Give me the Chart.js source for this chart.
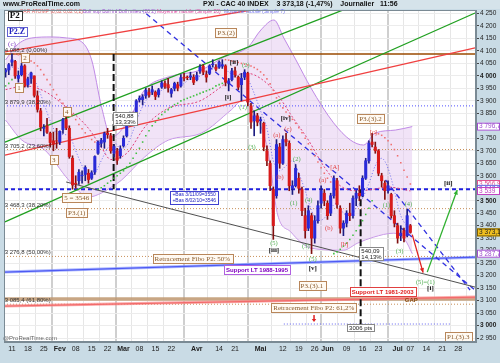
<!DOCTYPE html>
<html><head><meta charset="utf-8">
<script src="https://cdn.jsdelivr.net/npm/chart.js@4.4.1/dist/chart.umd.min.js"></script>
<style>html,body{margin:0;padding:0;background:#c9dbe5;}#wrap{width:500px;height:363px;position:relative}</style>
</head><body><div id="wrap"><canvas id="c" width="500" height="363"></canvas></div>
<script>
// ---------- DATA ----------
const tickPos = [0,5,10,15,20,25,30,35,40,45,50,58,65,70,78,85,90,95,99,105,110,115,121,125,130,135,140];
const tickLabels = ['11','18','25','Fev','08','15','22','Mar','08','15','22','Avr','14','21','Mai','12','19','26','Jun','09','16','23','Jul','07','14','21','28'];
const monthLabels = ['Fev','Mar','Avr','Mai','Jun','Jul'];
const firstDay = -2;
const opens  = [4016,4024,4055,4058,3990,4005,4040,3965,3990,4000,3920,3860,3790,3800,3770,3740,3740,3735,3785,3825,3790,3670,3570,3580,3600,3605,3610,3590,3615,3690,3730,3735,3770,3760,3690,3700,3680,3720,3760,3810,3845,3840,3905,3905,3920,3935,3935,3935,3925,3955,3970,3965,3930,3950,3965,3960,3995,3995,3995,3995,3985,4020,4040,4005,4010,4045,4035,4035,4040,4040,3970,3985,4020,3995,3965,3995,4010,3880,3820,3840,3820,3810,3700,3650,3545,3520,3715,3650,3745,3730,3550,3560,3590,3545,3440,3390,3440,3350,3420,3490,3530,3490,3450,3520,3580,3470,3390,3410,3450,3440,3510,3530,3520,3590,3660,3735,3715,3700,3600,3570,3540,3525,3440,3400,3360,3380,3360,3400];
const highs  = [4030,4050,4088,4062,4020,4050,4045,3995,4015,4000,3940,3870,3805,3830,3775,3775,3790,3780,3830,3840,3800,3680,3600,3625,3620,3640,3625,3620,3680,3740,3750,3775,3790,3770,3725,3710,3720,3760,3815,3855,3855,3905,3920,3925,3950,3950,3960,3940,3950,3980,3980,3990,3950,3975,3975,4005,4010,4000,4015,4005,4015,4045,4045,4020,4045,4065,4045,4060,4065,4045,3990,4030,4035,4000,4010,4025,4015,3890,3860,3850,3835,3815,3720,3660,3555,3745,3730,3760,3770,3740,3580,3645,3610,3555,3470,3480,3450,3440,3500,3560,3545,3500,3530,3600,3590,3480,3420,3460,3490,3520,3540,3560,3600,3670,3740,3770,3735,3705,3610,3580,3580,3530,3460,3410,3400,3390,3465,3405];
const lows   = [3995,4005,4040,3990,3975,4000,3955,3955,3970,3915,3855,3780,3760,3770,3715,3700,3710,3725,3770,3785,3670,3546,3550,3565,3570,3580,3570,3585,3605,3685,3715,3710,3750,3690,3675,3645,3670,3715,3755,3800,3815,3835,3895,3885,3910,3915,3925,3905,3915,3950,3950,3935,3915,3940,3940,3955,3980,3985,3985,3965,3980,4010,4005,3975,4005,4035,4020,4030,4030,3960,3940,3980,3995,3945,3900,3985,3880,3790,3760,3800,3770,3700,3640,3540,3345,3510,3630,3645,3720,3540,3525,3555,3530,3440,3350,3380,3288,3330,3410,3470,3480,3425,3440,3510,3470,3370,3360,3395,3420,3430,3480,3500,3515,3585,3650,3715,3690,3600,3555,3505,3530,3430,3395,3330,3340,3335,3355,3370];
const closes = [4024,4045,4064,4000,4002,4040,3960,3988,4012,3922,3866,3795,3794,3774,3733,3727,3739,3778,3825,3792,3677,3563,3567,3614,3602,3633,3585,3612,3677,3735,3742,3769,3765,3700,3717,3662,3708,3750,3808,3850,3830,3900,3911,3916,3942,3925,3945,3918,3944,3972,3958,3952,3945,3970,3951,3993,3991,3993,4000,3974,4002,4035,4015,3995,4040,4047,4027,4055,4045,3975,3980,4020,4005,3955,3990,4015,3895,3815,3840,3815,3825,3715,3660,3560,3400,3725,3650,3745,3735,3560,3560,3630,3550,3460,3380,3460,3350,3420,3480,3540,3500,3440,3520,3590,3485,3390,3410,3450,3440,3510,3530,3520,3590,3660,3730,3725,3700,3610,3580,3540,3560,3440,3410,3350,3370,3350,3440,3373];
// Bollinger bands (read at sampled days)
const bollUpDays = [-2,1.6,6.2,12.5,17.2,21.9,25,28.1,31.2,36.6,41.6,49.1,59.4,66.6,74.1,78.1,82.2,85.3,89.1,93.8,100.9,106.2,110.3,114,120.3,125.6];
const bollUp     = [4064,4124,4152,4156,4152,4136,4064,3876,3755,3823,3944,3996,4024,4076,4116,4184,4224,4152,4064,3952,3812,3743,3723,3771,3783,3797];
const bollLoDays = [-2,3.1,10.3,17.8,24.1,28.1,31.2,34.4,41.6,49.1,59.4,68.8,72.5,77.2,80.3,83.4,87.5,90.6,93.8,104,108.4,113.4,119.7,123.4,125.6];
const bollLo     = [3823,3743,3703,3583,3515,3531,3555,3583,3675,3743,3771,3864,3904,3823,3703,3443,3375,3334,3310,3302,3330,3354,3370,3342,3288];
// moving averages (read at sampled days)
const ma20Days = [-2,4,10,17,24,28,31,36,42,49,59,66,70,74,78,83,88,93,98,103,108,113,118,122,125];
const ma20     = [3945,3960,3940,3875,3790,3715,3665,3690,3800,3870,3900,3960,4000,4010,3990,3930,3835,3743,3635,3560,3540,3545,3555,3548,3539];
const ma7Days  = [-2,0,2,4,6,8,10,12,14,16,18,20,22,24,26,28,30,32,34,36,38,40,42,44,46,48,50,52,54,56,58,60,62,64,66,68,70,72,74,76,78,80,82,84,86,88,90,92,94,96,98,100,102,104,106,108,110,112,114,116,118,120,122,124,125];
const ma7      = [4010,4035,4030,4015,3995,3960,3890,3820,3770,3765,3760,3700,3640,3600,3610,3660,3710,3735,3710,3720,3780,3850,3900,3925,3935,3950,3955,3955,3970,3990,3995,4005,4020,4035,4040,4015,4000,3995,3985,3930,3860,3790,3660,3620,3640,3660,3610,3540,3460,3420,3430,3470,3490,3450,3440,3470,3510,3570,3640,3670,3630,3540,3440,3400,3390];
// Parabolic SAR dots
const sarRedDays = [1,2,3,4,5,6,7,8,9,10,11,12,13,14,15,16,17,18,19,20,21,22,23,24,25,26, 67,68,69,70,71,72,73,74,75,76,77,78,79,80,81,82,83,84,85,86,87,88,89,90,91,92,93,94,95,96,97,98,99,100, 114,115,116,117,118,119,120,121,122,123,124,125];
const sarRed     = [4088,4085,4080,4075,4068,4060,4052,4040,4025,4005,3985,3965,3945,3925,3905,3890,3876,3862,3845,3825,3805,3788,3772,3758,3745,3735, 4065,4063,4060,4057,4054,4050,4047,4044,4040,4034,4026,4016,4004,3988,3968,3942,3912,3890,3872,3855,3840,3826,3810,3792,3772,3750,3728,3705,3680,3655,3632,3610,3590,3575, 3770,3768,3762,3752,3740,3725,3705,3680,3652,3622,3595,3567];
const sarGreenDays = [-2,-1,0, 27,28,29,30,31,32,33,34,35,36,37,38,39,40,41,42,43,44,45,46,47,48,49,50,51,52,53,54,55,56,57,58,59,60,61,62,63,64,65,66, 101,102,103,104,105,106,107,108,109,110,111,112,113];
const sarGreen     = [3960,3970,3985, 3546,3552,3560,3570,3580,3590,3600,3610,3620,3635,3650,3670,3690,3710,3735,3760,3780,3800,3815,3830,3845,3855,3865,3875,3885,3890,3900,3905,3910,3915,3920,3925,3930,3935,3940,3945,3950,3960,3965,3970, 3288,3295,3305,3318,3330,3345,3362,3380,3400,3420,3445,3470,3500];
// y ticks
const yTickMin = 2950, yTickMax = 4250, yTickStep = 50;
const boldTicks = [3000,3500,4000];
// horizontal levels
const fibLevels = [3879.9, 3705.2, 3468.3, 3276.8, 3085.4];
const topLevel = 4088.2;
const lowLevel = 3546;
const gapLevel = 3106;
const targetLevel = 3006;
// trend lines [day0, price0, day1, price1]
const redTop     = [-2.2,4096, 75,4264];
const redMid     = [-2.2,3683, 145.3,4112];
const greenTop   = [-2.2,3735, 104.7,4268];
const greenLow   = [-2.2,3415, 145.3,4252];
const grayLine   = [17,3575, 145.3,3154];
const blueDashA  = [40,4272, 145.3,3142];
const blueDashB  = [117.2,3583, 143.75,3142];
const supportLT1 = [-2.2,3214, 145.3,3274];
const supportLT2 = [-2.2,3078, 145.3,3114];
const measureL   = [31.9, 4088.2, 31.9, 3546];
const measureR   = [109.4, 3546, 109.4, 2990];
const targetSeg  = [85.3, 137.5];
const arrowRed   = [125.6,3364, 129,3212];
const arrowGreen = [130.3,3214, 139.7,3543];
// right axis value tags
const axisTags = [[3796.7,'3 796,7','#a050d0','#fff'],[3566.9,'3 566,9','#e05090','#fff'],[3547.5,'3 547,5','#6060e0','#fff'],[3539,'3 539','#c040c0','#fff'],[3373.18,'3 373,18','#806000','#f0c020'],[3287.7,'3 287,7','#a050d0','#fff']];
// annotations [text, day, price, style]
const notes = [
 ['P2',0.9,4240,'p2'],['P2.Z',1.6,4176,'p2z'],['(c)',0,4128,'purple'],
 ['4 088,2 (0,00%)',-2.3,4104,'fib'],['3 879,9 (38,20%)',-2.3,3896,'fib'],['3 705,2 (23,60%)',-2.3,3719,'fib'],
 ['3 468,3 (38,20%)',-2.3,3483,'fib'],['3 276,8 (50,00%)',-2.3,3294,'fib'],['3 085,4 (61,80%)',-2.3,3102,'fib'],
 ['2',4.1,4072,'tan'],['1',2.2,3952,'tan'],['4',17.2,3856,'tan'],['3',13.1,3663,'tan'],
 ['5 = 3546',20.3,3511,'tan'],['P3.(1)',20.3,3451,'tan'],['P3.(2)',67.2,4172,'tan'],
 ['540,88\n13,33%',35.6,3827,'measure'],['+Bas 3/11/09=3550\n+Bas 8/02/10=3546',57.2,3511,'blueBox'],
 ['Retracement Fibo P2: 50%',56.6,3266,'tan'],['Support LT 1988-1995',76.9,3222,'purpleBox'],
 ['[ii]',69.7,4056,'black'],['(2)',73.4,4044,'green'],['[i]',67.8,3916,'black'],['(1)',72.5,3876,'green'],
 ['(3)',75.3,3715,'green'],['[iv]',85.9,3831,'black'],['(a)',83.1,3763,'red'],['(c)',86.6,3787,'red'],
 ['(b)',84.1,3595,'red'],['(2)',89.4,3667,'green'],['(1)',88.4,3491,'green'],['(4)',93.1,3503,'green'],
 ['(a)',97.5,3583,'red'],['[A]',101.3,3635,'red'],['P3.(3).2',112.5,3827,'tan'],['[c]',113.4,3775,'red'],
 ['(5)',82.2,3330,'green'],['[iii]',82.2,3302,'black'],['(3)',92.2,3318,'green'],['(5)',94.4,3266,'green'],
 ['[v]',94.4,3230,'black'],['(b)',99.4,3391,'red'],['[b]',104.4,3326,'red'],['(1)',117.5,3483,'green'],
 ['(4)',124.4,3487,'green'],['(3)',121.6,3298,'green'],['(5)=(1)',129.7,3174,'green'],['[i]',131.3,3150,'black'],
 ['[ii]',136.9,3571,'black'],['540,09\n14,13%',112.8,3286,'measure'],['P3.(3).1',94.1,3158,'tan'],
 ['Support LT 1981-2003',116.3,3134,'redBox'],['GAP',125.3,3100,'gap'],['Retracement Fibo P2: 61,2%',94.7,3070,'tan'],
 ['3006 pts',109.4,2990,'measure'],['P1.(3).3',140,2954,'tan']
];

// ---------- BUILD ----------
const XMIN = -2.5, XMAX = 145.6, YMIN = 2934, YMAX = 4264;
const days = opens.map((_,k)=>firstDay+k);
const UP='#2a2ad8', DN='#d81a1a';
const seg = (a,color,w,dash,order)=>({type:'line',data:[{x:a[0],y:a[1]},{x:a[2],y:a[3]}],borderColor:color,borderWidth:w,borderDash:dash||[],pointRadius:0,fill:false,order:order||5});
const hline = (v,color,w,dash,x0,x1)=>seg([x0??XMIN,v,x1??XMAX,v],color,w,dash,6);
const pts = (dd,vv)=>dd.map((d,k)=>({x:d,y:vv[k]}));

const datasets = [
 {type:'line',data:pts(bollUpDays,bollUp),borderColor:'#c08ae6',borderWidth:1,pointRadius:0,cubicInterpolationMode:'monotone',fill:{target:'+1'},backgroundColor:'rgba(228,200,240,0.5)',order:20},
 {type:'line',data:pts(bollLoDays,bollLo),borderColor:'#c08ae6',borderWidth:1,pointRadius:0,cubicInterpolationMode:'monotone',fill:false,order:20},
 {type:'line',data:pts(ma20Days,ma20),borderColor:'#e0407a',borderWidth:1,borderDash:[2,2],pointRadius:0,cubicInterpolationMode:'monotone',fill:false,order:4},
 {type:'line',data:pts(ma7Days,ma7),borderColor:'#7070f0',borderWidth:1,borderDash:[1,2],pointRadius:0,cubicInterpolationMode:'monotone',fill:false,order:4},
 {type:'line',data:pts(sarRedDays,sarRed),showLine:false,pointRadius:1.1,pointStyle:'rect',pointBackgroundColor:'#f07070',pointBorderWidth:0,order:2},
 {type:'line',data:pts(sarGreenDays,sarGreen),showLine:false,pointRadius:1.1,pointStyle:'rect',pointBackgroundColor:'#40c040',pointBorderWidth:0,order:2},
 hline(gapLevel,'rgba(190,150,110,0.85)',3.5),
 hline(topLevel,'#9a4a00',1.5),
 hline(fibLevels[0],'#5050ff',1,[1,2]),
 hline(fibLevels[1],'#c8905a',1,[1,2]),
 hline(fibLevels[2],'#c8905a',1,[1,2]),
 hline(fibLevels[3],'#c8905a',1,[1,2]),
 hline(fibLevels[4],'#c8905a',1,[1,2]),
 hline(lowLevel,'#2020e0',2.2,[4,3]),
 hline(targetLevel,'#6060f0',1,[1,2],targetSeg[0],targetSeg[1]),
 seg(redTop,'#f04040',1.3),
 seg(redMid,'#f04040',1.3),
 seg(greenTop,'#20a020',1.3),
 seg(greenLow,'#20a020',1.3),
 seg(grayLine,'#505050',1),
 seg(blueDashA,'#3030e0',1.3,[5,4]),
 seg(blueDashB,'#3030e0',1.3,[5,4]),
 seg(supportLT1,'rgba(120,140,255,0.6)',3),
 seg(supportLT1,'#1010e0',1.2),
 seg(supportLT2,'rgba(250,140,140,0.7)',3),
 seg(supportLT2,'#e02020',1.2),
 seg(measureL,'#111',2,[7,3],3),
 seg(measureR,'#111',2,[7,3],3),
 seg(arrowRed,'#e02020',1.3,[],3),
 seg(arrowGreen,'#30b030',1.3,[],3),
 {type:'bar',data:days.map((d,k)=>({x:d,y:[lows[k],highs[k]]})),backgroundColor:days.map((d,k)=>closes[k]>=opens[k]?'#1c1c80':'#801010'),barThickness:1,grouped:false,order:1},
 {type:'bar',data:days.map((d,k)=>({x:d,y:[Math.min(opens[k],closes[k]),Math.max(opens[k],closes[k])]})),backgroundColor:days.map((d,k)=>closes[k]>=opens[k]?UP:DN),barThickness:2.4,grouped:false,order:0}
];

const fmt = v => { const s = String(Math.round(v)); return s.length>3 ? s.slice(0,-3)+' '+s.slice(-3) : s; };
const styles = {
 tan:{font:'7px "Liberation Serif"',color:'#8a5a2a',box:'#b8865a',fill:'rgba(255,250,242,0.95)'},
 green:{font:'6.5px "Liberation Serif"',color:'#55b055'},
 red:{font:'6.5px "Liberation Serif"',color:'#e04040'},
 black:{font:'bold 7px "Liberation Serif"',color:'#111'},
 purple:{font:'7px "Liberation Serif"',color:'#8040c0'},
 fib:{font:'6px "Liberation Sans"',color:'#333',align:'left'},
 p2:{font:'bold 9px "Liberation Serif"',color:'#111',box:'#333',fill:'#fff'},
 p2z:{font:'bold 8px "Liberation Serif"',color:'#2020c0',box:'#6060d0',fill:'#fff'},
 measure:{font:'6px "Liberation Sans"',color:'#222',box:'#888',fill:'#fff',lh:6},
 blueBox:{font:'5px "Liberation Sans"',color:'#2020c0',box:'#4040d0',fill:'#fff',lh:6},
 purpleBox:{font:'bold 6px "Liberation Sans"',color:'#8000c0',box:'#b060e0',fill:'#fff'},
 redBox:{font:'bold 6px "Liberation Sans"',color:'#e02020',box:'#e04040',fill:'#fff'},
 gap:{font:'bold 6px "Liberation Sans"',color:'#8a4a10'}
};

const deco = {
 id:'deco',
 beforeDraw(chart){
  const {ctx, chartArea:a} = chart;
  ctx.save();
  ctx.fillStyle='#c9dbe5'; ctx.fillRect(0,0,500,363);
  ctx.fillStyle='#d5e3ea'; ctx.fillRect(0,0,500,9);
  ctx.fillStyle='#ffffff'; ctx.fillRect(a.left,a.top,a.right-a.left,a.bottom-a.top);
  ctx.fillStyle='#111'; ctx.textBaseline='middle';
  ctx.font='bold 7px "Liberation Sans"'; ctx.textAlign='left';
  ctx.fillText('www.ProRealTime.com',3,4.5);
  ctx.fillText('PXI - CAC 40 INDEX    3 373,18 (-1,47%)    Journalier   11:56',203,4.5);
  ctx.restore();
 },
 afterDatasetsDraw(chart){
  const {ctx, chartArea:a, scales:{x,y}} = chart;
  ctx.save();
  [[arrowRed,'#e02020'],[arrowGreen,'#30b030']].forEach(([s,c])=>{
   const x0=x.getPixelForValue(s[0]),y0=y.getPixelForValue(s[1]),x1=x.getPixelForValue(s[2]),y1=y.getPixelForValue(s[3]);
   const ang=Math.atan2(y1-y0,x1-x0);
   ctx.fillStyle=c; ctx.beginPath(); ctx.moveTo(x1,y1);
   ctx.lineTo(x1-5*Math.cos(ang-0.45),y1-5*Math.sin(ang-0.45));
   ctx.lineTo(x1-5*Math.cos(ang+0.45),y1-5*Math.sin(ang+0.45)); ctx.closePath(); ctx.fill();
  });
  ctx.fillStyle='#e02020';
  const ax=x.getPixelForValue(94.7), ay=y.getPixelForValue(3070)+7;
  ctx.fillRect(ax-0.5,ay,1.5,4); ctx.beginPath(); ctx.moveTo(ax-2,ay+4);ctx.lineTo(ax+2.5,ay+4);ctx.lineTo(ax+0.25,ay+7);ctx.fill();
  ctx.textBaseline='middle'; ctx.textAlign='left'; ctx.font='5px "Liberation Sans"';
  [['SAR ATOMP (0,02 0,02 0,2)',20,'#e06060'],['Boll sup Boll inf Boll milieu (20 2)',83,'#a050d0'],['Moyenne mobile (Simple 20)',157,'#e040a0'],['Moyenne mobile (Simple 7)',224,'#7070f0']].forEach(([t,px,c])=>{ctx.fillStyle=c;ctx.fillText(t,px,12);});
  notes.forEach(([t,d,v,st])=>{
   const s=styles[st]; const px=x.getPixelForValue(d), py=y.getPixelForValue(v);
   ctx.font=s.font; const lines=t.split('\n'); const lh=s.lh||8;
   const w=Math.max(...lines.map(l=>ctx.measureText(l).width));
   const h=lines.length*lh;
   let left = s.align==='left'? px : px-w/2;
   if(s.box){ctx.fillStyle=s.fill;ctx.strokeStyle=s.box;ctx.lineWidth=1;
     ctx.fillRect(Math.round(left-2)+0.5,Math.round(py-h/2-1)+0.5,Math.round(w+4),Math.round(h+1));
     ctx.strokeRect(Math.round(left-2)+0.5,Math.round(py-h/2-1)+0.5,Math.round(w+4),Math.round(h+1));}
   ctx.fillStyle=s.color; ctx.textAlign='left'; ctx.textBaseline='middle';
   lines.forEach((l,k)=>ctx.fillText(l,left,py-h/2+lh*(k+0.5)));
  });
  ctx.font='6px "Liberation Sans"'; ctx.fillStyle='#666'; ctx.textAlign='left';
  ctx.fillText('@ProRealTime.com',3,338);
  ctx.strokeStyle='#7a8a94'; ctx.lineWidth=1;
  ctx.strokeRect(a.left+0.5,a.top+0.5,a.right-a.left-1,a.bottom-a.top-1);
  ctx.font='6.5px "Liberation Sans"'; ctx.textBaseline='middle';
  axisTags.forEach(([v,t,c,f])=>{const py=y.getPixelForValue(v);
   ctx.fillStyle=f; ctx.fillRect(477,py-4,23,8); ctx.strokeStyle=c; ctx.strokeRect(477.5,py-3.5,22,7);
   ctx.fillStyle=f==='#fff'?c:'#222'; ctx.fillText(t,479,py);});
  ctx.restore();
 }
};

new Chart(document.getElementById('c'),{
 type:'bar',
 data:{datasets},
 options:{
  responsive:false, animation:false, events:[],
  layout:{padding:{left:2,top:10,right:0,bottom:0}},
  plugins:{legend:{display:false},tooltip:{enabled:false}},
  scales:{
   x:{type:'linear',min:XMIN,max:XMAX,offset:false,
      afterBuildTicks:s=>{s.ticks=tickPos.map(v=>({value:v}));},
      afterFit:s=>{s.height=21;},
      grid:{color:c=>monthLabels.includes(tickLabels[c.index])?'#cfcfcf':'#e6e6e6',lineWidth:c=>monthLabels.includes(tickLabels[c.index])?2:1,drawTicks:false},
      border:{color:'#7a8a94'},
      ticks:{autoSkip:false,maxRotation:0,padding:3,color:'#222',
        font:c=>({family:'Liberation Sans',size:7,weight:monthLabels.includes(tickLabels[c.index])?'bold':'normal'}),
        callback:(v,i)=>tickLabels[i]}},
   y:{type:'linear',position:'right',min:YMIN,max:YMAX,
      afterBuildTicks:s=>{const t=[];for(let v=yTickMin;v<=yTickMax;v+=yTickStep)t.push({value:v});s.ticks=t;},
      afterFit:s=>{s.width=24;},
      grid:{color:'#ececec',tickColor:'#444',tickLength:3},
      border:{color:'#7a8a94'},
      ticks:{padding:1,color:'#222',font:c=>({family:'Liberation Sans',size:6.5,weight:boldTicks.includes(c.tick&&c.tick.value)?'bold':'normal'}),callback:v=>fmt(v)}}
  }
 },
 plugins:[deco]
});
</script></body></html>
